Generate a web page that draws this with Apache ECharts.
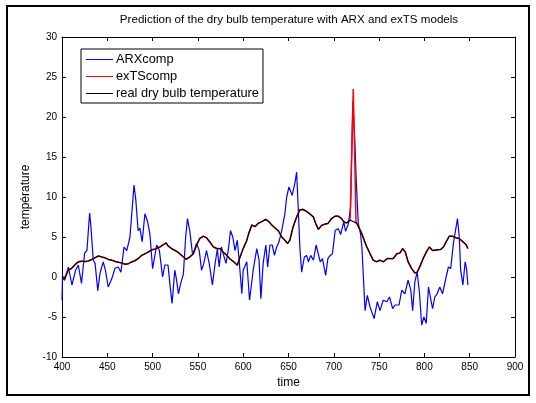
<!DOCTYPE html>
<html>
<head>
<meta charset="utf-8">
<script src="https://cdn.jsdelivr.net/npm/echarts@6/dist/echarts.min.js"></script>
<style>
html,body{margin:0;padding:0;background:#fff;}
#chart{width:536px;height:403px;}
</style>
</head>
<body>
<div id="chart"></div>
<script>
// ---- data ----
const titleText = 'Prediction of the dry bulb temperature with ARX and exTS models';
const seriesNames = ['ARXcomp', 'exTScomp', 'real dry bulb temperature'];
const xTicks = [400, 450, 500, 550, 600, 650, 700, 750, 800, 850, 900];
const yTicks = [-10, -5, 0, 5, 10, 15, 20, 25, 30];

const arxTime = [400,400.5,403,407,411,415,418,421.5,425,427.5,430.5,432,434.5,436.5,439.5,442,445.5,448,451,455,458.5,462,465,468.5,471.5,475,479.5,481.5,484,486,488.5,491.5,494.5,497,500,504.5,507.5,511,513.5,517,519,521.5,524.5,526.5,528.5,531,534,536.5,538.5,541,544,546,548.5,551.5,554,556.5,559.5,562.5,566,569,571.5,573.5,576,578,581,583.5,586,588.5,591,593.5,595.5,598.5,600,604,607,611,615,617.5,619.5,622,625,627,629.5,632,634.5,637,639.5,642.5,646,648,650.5,652.5,654,657,659,661,662.5,664.5,667.5,670,672,674.5,677.5,680.5,682,685,687.5,691,693.5,696,698.5,701.5,705,707.5,711,713,716,718.5,721,723,725,727,729.5,731,734.5,737,740,744.5,748,751,754.5,758.5,761.5,765,767.5,772,775,778.5,782,785,787,789.5,792,794.5,797,799.5,802,804.5,809,811.5,814,817,820,824,826.5,829,832,836.5,838.5,840,842.5,845,846.5,848];
const arxValues = [-2.9,-0.2,-0.4,1.25,-1.0,0.85,1.5,-0.8,3.0,3.3,8.0,6.2,2.1,1.7,-1.7,0.5,1.9,0.8,-1.25,-0.2,1.1,1.25,0.6,3.75,3.3,5.0,11.5,9.6,5.8,6.1,4.4,7.9,6.9,5.4,1.05,4.0,3.3,0,1.5,1.5,-0.8,-3.3,0.85,-0.4,-2.1,-0.8,0.4,5.0,7.3,5.8,2.9,3.3,4.2,3.3,0.85,1.7,3.3,1.7,-1.0,1.7,3.5,1.25,3.75,2.9,1.7,3.3,5.8,5.0,3.3,4.6,2.1,-2.1,0.85,1.9,-2.9,0.85,3.55,2.1,-2.7,1.7,4.0,1.25,4.0,4.0,2.7,3.75,4.4,5.8,7.9,10.0,11.25,11.1,10.2,11.7,13.1,7.9,3.75,0.6,2.5,2.7,1.9,2.7,2.1,4.0,3.75,1.9,2.3,0.2,2.3,2.7,2.9,5.8,6.05,5.3,6.9,5.7,6.6,8.7,21.9,17.5,11.5,6.7,5.4,3.75,-4.2,-2.3,-3.75,-5.2,-3.1,-4.2,-2.9,-3.1,-2.5,-3.95,-3.5,-3.5,-1.65,-2.1,-0.4,-1.65,-4.2,-0.6,0.6,-1.9,-6.0,-5.0,-5.8,-1.25,-3.95,-2.5,-2.1,-1.25,-2.1,0,1.25,1.05,4.2,7.3,5.0,0.85,-1.0,1.9,1.05,-1.0];

const realTime = [400,403,407,410.5,414,418,422,425.5,429,433,436.5,440,444,447.5,451,455,458.5,462,466,469.5,473,477,480,484,488,491.5,495,499,503,508,512,515,517,521,525,528,532,537,541,545,548.5,552,556,559.5,563,567,571,574.5,578,582,585,589,593.5,596.5,600,604,606,609.5,613,616.5,620,625,628.5,632,636,639,642.5,646,649,651.5,655,659,662.5,666,670,673.5,677.5,680,683,686.5,690,693.5,697.5,701.5,705,708.5,711,714,718,722,725.5,728.5,731,733.5,736.5,740,743.5,747,751,754.5,759,762,765.5,769.5,773,776,779,782,786,789.5,792,795,799,802.5,805.5,809,814,818,821,824,827.5,831,835,838.5,842,846,848];
const realValues = [0,-0.2,0.85,1.05,1.5,1.9,1.95,1.95,2.0,2.2,2.4,2.6,2.5,2.4,2.2,2.1,1.95,1.85,1.75,1.6,1.65,1.9,2.0,2.3,2.7,2.9,3.1,3.4,3.5,3.75,4.05,4.25,3.9,3.55,3.3,3.1,2.7,2.2,2.5,2.9,4.0,4.8,5.1,4.9,4.4,3.75,3.55,3.55,3.1,2.7,2.3,1.95,1.45,2.5,3.55,4.6,5.4,6.5,6.3,6.7,6.9,7.2,6.9,6.45,6.05,5.75,5.0,4.6,4.2,4.6,6.25,7.5,8.4,8.45,8.2,7.9,7.5,6.7,5.95,6.45,6.6,6.7,7.3,7.6,7.6,7.3,6.9,6.75,7.1,6.9,6.7,6.0,5.4,4.6,3.75,2.9,2.1,1.9,2.1,1.9,2.3,2.3,2.3,2.9,3.0,3.55,3.1,1.9,1.05,0.5,0.6,1.3,2.4,3.2,3.75,3.3,3.4,3.45,3.75,4.4,5.1,5.1,4.9,4.8,4.45,4.05,3.55];

const extsTime = [400,403,407,410.5,414,418,422,425.5,429,433,436.5,440,444,447.5,451,455,458.5,462,466,469.5,473,477,480,484,488,491.5,495,499,503,508,512,515,517,521,525,528,532,537,541,545,548.5,552,556,559.5,563,567,571,574.5,578,582,585,589,593.5,596.5,600,604,606,609.5,613,616.5,620,625,628.5,632,636,639,642.5,646,649,651.5,655,659,662.5,666,670,673.5,677.5,680,683,686.5,690,693.5,697.5,701.5,705,708.5,711,714,718,720,721.5,722.5,724.5,725.5,728.5,731,733.5,736.5,740,743.5,747,751,754.5,759,762,765.5,769.5,773,776,779,782,786,789.5,792,795,799,802.5,805.5,809,814,818,821,824,827.5,831,835,838.5,842,846,848];
const extsValues = [0.1,-0.1,0.9,1.1,1.5,1.9,2.0,1.9,2.0,2.2,2.4,2.65,2.5,2.4,2.2,2.1,1.95,1.85,1.75,1.6,1.65,1.9,2.0,2.3,2.7,2.9,3.1,3.4,3.5,3.75,4.05,4.25,3.9,3.55,3.3,3.1,2.7,2.25,2.5,2.9,4.0,4.8,5.1,4.9,4.4,3.8,3.55,3.55,3.1,2.7,2.3,1.95,1.5,2.5,3.55,4.6,5.4,6.5,6.3,6.7,6.9,7.2,6.9,6.45,6.05,5.75,5.0,4.6,4.2,4.6,6.25,7.5,8.4,8.45,8.2,7.9,7.5,6.7,5.95,6.45,6.6,6.7,7.3,7.6,7.6,7.3,6.9,6.75,7.1,7.0,23.5,23.5,6.9,6.7,6.0,5.4,4.6,3.75,2.9,2.1,1.9,2.1,1.9,2.3,2.3,2.3,2.9,3.0,3.55,3.1,1.9,1.05,0.5,0.6,1.3,2.4,3.2,3.75,3.3,3.4,3.45,3.75,4.4,5.1,5.1,4.9,4.8,4.45,4.05,3.55];

// ---- chart ----
function pairs(t, v) { return t.map((x, i) => [x, v[i]]); }
const FONT = 'Liberation Sans, Arial, Helvetica, sans-serif';
const chart = echarts.init(document.getElementById('chart'), null, {renderer: 'canvas'});

const tickCommon = {
  axisLine: {show: true, onZero: false, lineStyle: {color: '#000', width: 1}},
  axisTick: {show: true, inside: true, length: 4, lineStyle: {color: '#000'}},
  splitLine: {show: false}
};

chart.setOption({
  animation: false,
  backgroundColor: '#fff',
  textStyle: {fontFamily: FONT},
  grid: {left: 62, right: 21, top: 37, bottom: 46, containLabel: false},
  legend: {
    data: seriesNames,
    orient: 'vertical',
    left: 81, top: 49,
    icon: 'rect',
    itemWidth: 27, itemHeight: 1,
    itemGap: 4,
    padding: [4, 4, 3, 5],
    borderColor: '#000', borderWidth: 1, borderRadius: 0,
    backgroundColor: '#fff',
    selectedMode: false,
    textStyle: {fontFamily: FONT, fontSize: 12.8, color: '#000', lineHeight: 13, padding: [0, 0, 0, -2]}
  },
  xAxis: [
    Object.assign({
      type: 'value', min: xTicks[0], max: xTicks[xTicks.length - 1], interval: 50,
      position: 'bottom',
      name: 'time', nameLocation: 'middle', nameGap: 19,
      nameTextStyle: {fontFamily: FONT, fontSize: 12, color: '#000'},
      axisLabel: {fontFamily: FONT, fontSize: 10, color: '#000', margin: 5}
    }, tickCommon),
    Object.assign({
      type: 'value', min: xTicks[0], max: xTicks[xTicks.length - 1], interval: 50,
      position: 'top', axisLabel: {show: false}
    }, tickCommon)
  ],
  yAxis: [
    Object.assign({
      type: 'value', min: yTicks[0], max: yTicks[yTicks.length - 1], interval: 5,
      position: 'left',
      name: 'température', nameLocation: 'middle', nameGap: 23, nameRotate: 90,
      nameTextStyle: {fontFamily: FONT, fontSize: 12, color: '#000'},
      axisLabel: {fontFamily: FONT, fontSize: 10, color: '#000', margin: 5}
    }, tickCommon),
    Object.assign({
      type: 'value', min: yTicks[0], max: yTicks[yTicks.length - 1], interval: 5,
      position: 'right', axisLabel: {show: false}
    }, tickCommon)
  ],
  series: [
    {name: seriesNames[0], type: 'line', data: pairs(arxTime, arxValues), showSymbol: false, symbol: 'none',
     color: '#0000ff', lineStyle: {color: '#0000ff', width: 1.2}, z: 2},
    {name: seriesNames[1], type: 'line', data: pairs(extsTime, extsValues), showSymbol: false, symbol: 'none',
     color: '#ff0000', lineStyle: {color: '#ff0000', width: 1.5}, z: 3},
    {name: seriesNames[2], type: 'line', data: pairs(realTime, realValues), showSymbol: false, symbol: 'none',
     color: '#000000', lineStyle: {color: '#000000', width: 1.2}, z: 4}
  ],
  graphic: [
    {type: 'rect', shape: {x: 7, y: 6, width: 522, height: 389}, style: {fill: 'none', stroke: '#000', lineWidth: 2}, silent: true, z: 0},
    {type: 'text', x: 289, y: 20, style: {text: titleText, align: 'center', verticalAlign: 'middle', font: '11.6px ' + FONT, fill: '#000'}, silent: true}
  ]
});
</script>
</body>
</html>
